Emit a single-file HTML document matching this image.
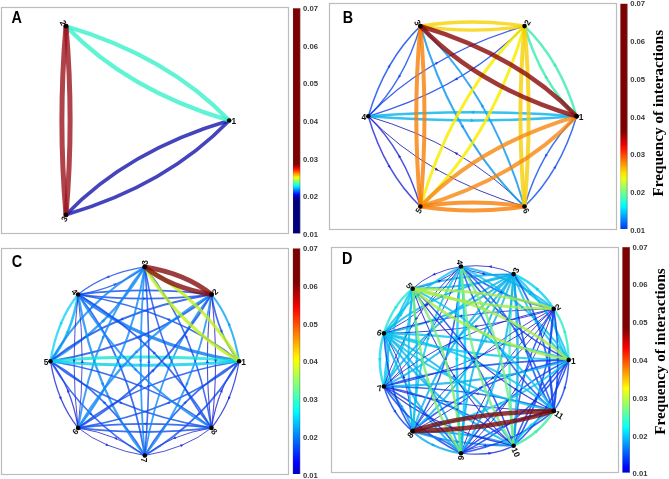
<!DOCTYPE html><html><head><meta charset="utf-8"><style>
html,body{margin:0;padding:0;background:#fff;width:669px;height:479px;overflow:hidden}
svg{position:absolute;left:0;top:0;display:block;will-change:transform}
.t{font-family:"Liberation Sans",sans-serif;font-weight:bold;fill:#383838;font-size:7.7px}
.L{font-family:"Liberation Sans",sans-serif;font-weight:bold;fill:#000;font-size:16px}
.F{font-family:"Liberation Serif",serif;font-weight:bold;fill:#000;font-size:15.25px}
.n{font-family:"Liberation Sans",sans-serif;font-weight:bold;fill:#111;font-size:8.4px}
</style></head><body>
<svg width="669" height="479" viewBox="0 0 669 479">
<defs><linearGradient id="gA" x1="0" y1="0" x2="0" y2="1"><stop offset="0.000" stop-color="#7f0000"/><stop offset="0.008" stop-color="#7f0000"/><stop offset="0.017" stop-color="#7f0000"/><stop offset="0.025" stop-color="#7f0000"/><stop offset="0.033" stop-color="#7f0000"/><stop offset="0.042" stop-color="#7f0000"/><stop offset="0.050" stop-color="#7f0000"/><stop offset="0.058" stop-color="#7f0000"/><stop offset="0.067" stop-color="#7f0000"/><stop offset="0.075" stop-color="#7f0000"/><stop offset="0.083" stop-color="#7f0000"/><stop offset="0.092" stop-color="#7f0000"/><stop offset="0.100" stop-color="#7f0000"/><stop offset="0.108" stop-color="#7f0000"/><stop offset="0.117" stop-color="#7f0000"/><stop offset="0.125" stop-color="#7f0000"/><stop offset="0.133" stop-color="#7f0000"/><stop offset="0.142" stop-color="#7f0000"/><stop offset="0.150" stop-color="#7f0000"/><stop offset="0.158" stop-color="#7f0000"/><stop offset="0.167" stop-color="#7f0000"/><stop offset="0.175" stop-color="#7f0000"/><stop offset="0.183" stop-color="#7f0000"/><stop offset="0.192" stop-color="#7f0000"/><stop offset="0.200" stop-color="#7f0000"/><stop offset="0.208" stop-color="#7f0000"/><stop offset="0.217" stop-color="#7f0000"/><stop offset="0.225" stop-color="#7f0000"/><stop offset="0.233" stop-color="#7f0000"/><stop offset="0.242" stop-color="#7f0000"/><stop offset="0.250" stop-color="#7f0000"/><stop offset="0.258" stop-color="#7f0000"/><stop offset="0.267" stop-color="#7f0000"/><stop offset="0.275" stop-color="#7f0000"/><stop offset="0.283" stop-color="#7f0000"/><stop offset="0.292" stop-color="#7f0000"/><stop offset="0.300" stop-color="#7f0000"/><stop offset="0.308" stop-color="#7f0000"/><stop offset="0.317" stop-color="#7f0000"/><stop offset="0.325" stop-color="#7f0000"/><stop offset="0.333" stop-color="#7f0000"/><stop offset="0.342" stop-color="#7f0000"/><stop offset="0.350" stop-color="#7f0000"/><stop offset="0.358" stop-color="#7f0000"/><stop offset="0.367" stop-color="#7f0000"/><stop offset="0.375" stop-color="#7f0000"/><stop offset="0.383" stop-color="#7f0000"/><stop offset="0.392" stop-color="#7f0000"/><stop offset="0.400" stop-color="#7f0000"/><stop offset="0.408" stop-color="#7f0000"/><stop offset="0.417" stop-color="#7f0000"/><stop offset="0.425" stop-color="#7f0000"/><stop offset="0.433" stop-color="#7f0000"/><stop offset="0.442" stop-color="#7f0000"/><stop offset="0.450" stop-color="#7f0000"/><stop offset="0.458" stop-color="#7f0000"/><stop offset="0.467" stop-color="#7f0000"/><stop offset="0.475" stop-color="#7f0000"/><stop offset="0.483" stop-color="#7f0000"/><stop offset="0.492" stop-color="#7f0000"/><stop offset="0.500" stop-color="#7f0000"/><stop offset="0.508" stop-color="#7f0000"/><stop offset="0.517" stop-color="#7f0000"/><stop offset="0.525" stop-color="#7f0000"/><stop offset="0.533" stop-color="#7f0000"/><stop offset="0.542" stop-color="#7f0000"/><stop offset="0.550" stop-color="#7f0000"/><stop offset="0.558" stop-color="#7f0000"/><stop offset="0.567" stop-color="#7f0000"/><stop offset="0.575" stop-color="#7f0000"/><stop offset="0.583" stop-color="#7f0000"/><stop offset="0.592" stop-color="#7f0000"/><stop offset="0.600" stop-color="#7f0000"/><stop offset="0.608" stop-color="#7f0000"/><stop offset="0.617" stop-color="#7f0000"/><stop offset="0.625" stop-color="#7f0000"/><stop offset="0.633" stop-color="#7f0000"/><stop offset="0.642" stop-color="#7f0000"/><stop offset="0.650" stop-color="#7f0000"/><stop offset="0.658" stop-color="#7f0000"/><stop offset="0.667" stop-color="#7f0000"/><stop offset="0.675" stop-color="#7f0000"/><stop offset="0.683" stop-color="#7f0000"/><stop offset="0.692" stop-color="#7f0000"/><stop offset="0.700" stop-color="#ab0000"/><stop offset="0.708" stop-color="#e30000"/><stop offset="0.717" stop-color="#ff1b00"/><stop offset="0.725" stop-color="#ff5300"/><stop offset="0.733" stop-color="#ff8a00"/><stop offset="0.742" stop-color="#ffc200"/><stop offset="0.750" stop-color="#fff900"/><stop offset="0.758" stop-color="#cdff31"/><stop offset="0.767" stop-color="#95ff69"/><stop offset="0.775" stop-color="#5effa0"/><stop offset="0.783" stop-color="#26ffd8"/><stop offset="0.792" stop-color="#00eeff"/><stop offset="0.800" stop-color="#00b6ff"/><stop offset="0.808" stop-color="#007fff"/><stop offset="0.817" stop-color="#0048ff"/><stop offset="0.825" stop-color="#0010ff"/><stop offset="0.833" stop-color="#0000d8"/><stop offset="0.842" stop-color="#0000a0"/><stop offset="0.850" stop-color="#00007f"/><stop offset="0.858" stop-color="#00007f"/><stop offset="0.867" stop-color="#00007f"/><stop offset="0.875" stop-color="#00007f"/><stop offset="0.883" stop-color="#00007f"/><stop offset="0.892" stop-color="#00007f"/><stop offset="0.900" stop-color="#00007f"/><stop offset="0.908" stop-color="#00007f"/><stop offset="0.917" stop-color="#00007f"/><stop offset="0.925" stop-color="#00007f"/><stop offset="0.933" stop-color="#00007f"/><stop offset="0.942" stop-color="#00007f"/><stop offset="0.950" stop-color="#00007f"/><stop offset="0.958" stop-color="#00007f"/><stop offset="0.967" stop-color="#00007f"/><stop offset="0.975" stop-color="#00007f"/><stop offset="0.983" stop-color="#00007f"/><stop offset="0.992" stop-color="#00007f"/><stop offset="1.000" stop-color="#00007f"/></linearGradient><linearGradient id="gB" x1="0" y1="0" x2="0" y2="1"><stop offset="0.000" stop-color="#7f0000"/><stop offset="0.025" stop-color="#7f0000"/><stop offset="0.050" stop-color="#7f0000"/><stop offset="0.075" stop-color="#7f0000"/><stop offset="0.100" stop-color="#7f0000"/><stop offset="0.125" stop-color="#7f0000"/><stop offset="0.150" stop-color="#7f0000"/><stop offset="0.175" stop-color="#7f0000"/><stop offset="0.200" stop-color="#7f0000"/><stop offset="0.225" stop-color="#7f0000"/><stop offset="0.250" stop-color="#7f0000"/><stop offset="0.275" stop-color="#7f0000"/><stop offset="0.300" stop-color="#7f0000"/><stop offset="0.325" stop-color="#7f0000"/><stop offset="0.350" stop-color="#7f0000"/><stop offset="0.375" stop-color="#7f0000"/><stop offset="0.400" stop-color="#7f0000"/><stop offset="0.425" stop-color="#7f0000"/><stop offset="0.450" stop-color="#7f0000"/><stop offset="0.475" stop-color="#7f0000"/><stop offset="0.500" stop-color="#7f0000"/><stop offset="0.525" stop-color="#7f0000"/><stop offset="0.550" stop-color="#7f0000"/><stop offset="0.575" stop-color="#8c0000"/><stop offset="0.600" stop-color="#bd0000"/><stop offset="0.625" stop-color="#ed0000"/><stop offset="0.650" stop-color="#ff1f00"/><stop offset="0.675" stop-color="#ff4f00"/><stop offset="0.700" stop-color="#ff8000"/><stop offset="0.725" stop-color="#ffb000"/><stop offset="0.750" stop-color="#ffe100"/><stop offset="0.775" stop-color="#ebff13"/><stop offset="0.800" stop-color="#bbff43"/><stop offset="0.825" stop-color="#8aff74"/><stop offset="0.850" stop-color="#5affa4"/><stop offset="0.875" stop-color="#29ffd5"/><stop offset="0.900" stop-color="#00f8ff"/><stop offset="0.925" stop-color="#00c7ff"/><stop offset="0.950" stop-color="#0096ff"/><stop offset="0.975" stop-color="#0066ff"/><stop offset="1.000" stop-color="#0035ff"/></linearGradient><linearGradient id="gC" x1="0" y1="0" x2="0" y2="1"><stop offset="0.000" stop-color="#7f0000"/><stop offset="0.025" stop-color="#7f0000"/><stop offset="0.050" stop-color="#7f0000"/><stop offset="0.075" stop-color="#7f0000"/><stop offset="0.100" stop-color="#7f0000"/><stop offset="0.125" stop-color="#7f0000"/><stop offset="0.150" stop-color="#7f0000"/><stop offset="0.175" stop-color="#9b0000"/><stop offset="0.200" stop-color="#b70000"/><stop offset="0.225" stop-color="#d30000"/><stop offset="0.250" stop-color="#ef0000"/><stop offset="0.275" stop-color="#ff0c00"/><stop offset="0.300" stop-color="#ff2800"/><stop offset="0.325" stop-color="#ff4300"/><stop offset="0.350" stop-color="#ff5f00"/><stop offset="0.375" stop-color="#ff7b00"/><stop offset="0.400" stop-color="#ff9700"/><stop offset="0.425" stop-color="#ffb300"/><stop offset="0.450" stop-color="#ffcf00"/><stop offset="0.475" stop-color="#ffeb00"/><stop offset="0.500" stop-color="#f6ff08"/><stop offset="0.525" stop-color="#daff24"/><stop offset="0.550" stop-color="#beff40"/><stop offset="0.575" stop-color="#a2ff5c"/><stop offset="0.600" stop-color="#86ff78"/><stop offset="0.625" stop-color="#6bff93"/><stop offset="0.650" stop-color="#4fffaf"/><stop offset="0.675" stop-color="#33ffcb"/><stop offset="0.700" stop-color="#17ffe7"/><stop offset="0.725" stop-color="#00faff"/><stop offset="0.750" stop-color="#00deff"/><stop offset="0.775" stop-color="#00c2ff"/><stop offset="0.800" stop-color="#00a6ff"/><stop offset="0.825" stop-color="#008aff"/><stop offset="0.850" stop-color="#006eff"/><stop offset="0.875" stop-color="#0052ff"/><stop offset="0.900" stop-color="#0036ff"/><stop offset="0.925" stop-color="#001aff"/><stop offset="0.950" stop-color="#0000fe"/><stop offset="0.975" stop-color="#0000e2"/><stop offset="1.000" stop-color="#0000c6"/></linearGradient><linearGradient id="gD" x1="0" y1="0" x2="0" y2="1"><stop offset="0.000" stop-color="#7f0000"/><stop offset="0.025" stop-color="#7f0000"/><stop offset="0.050" stop-color="#7f0000"/><stop offset="0.075" stop-color="#7f0000"/><stop offset="0.100" stop-color="#7f0000"/><stop offset="0.125" stop-color="#7f0000"/><stop offset="0.150" stop-color="#7f0000"/><stop offset="0.175" stop-color="#7f0000"/><stop offset="0.200" stop-color="#7f0000"/><stop offset="0.225" stop-color="#7f0000"/><stop offset="0.250" stop-color="#7f0000"/><stop offset="0.275" stop-color="#7f0000"/><stop offset="0.300" stop-color="#7f0000"/><stop offset="0.325" stop-color="#7f0000"/><stop offset="0.350" stop-color="#7f0000"/><stop offset="0.375" stop-color="#950000"/><stop offset="0.400" stop-color="#b90000"/><stop offset="0.425" stop-color="#dd0000"/><stop offset="0.450" stop-color="#ff0200"/><stop offset="0.475" stop-color="#ff2600"/><stop offset="0.500" stop-color="#ff4a00"/><stop offset="0.525" stop-color="#ff6e00"/><stop offset="0.550" stop-color="#ff9200"/><stop offset="0.575" stop-color="#ffb600"/><stop offset="0.600" stop-color="#ffda00"/><stop offset="0.625" stop-color="#fffe00"/><stop offset="0.650" stop-color="#dbff23"/><stop offset="0.675" stop-color="#b7ff47"/><stop offset="0.700" stop-color="#93ff6b"/><stop offset="0.725" stop-color="#6fff8f"/><stop offset="0.750" stop-color="#4bffb3"/><stop offset="0.775" stop-color="#27ffd7"/><stop offset="0.800" stop-color="#03fffb"/><stop offset="0.825" stop-color="#00deff"/><stop offset="0.850" stop-color="#00baff"/><stop offset="0.875" stop-color="#0096ff"/><stop offset="0.900" stop-color="#0072ff"/><stop offset="0.925" stop-color="#004eff"/><stop offset="0.950" stop-color="#002aff"/><stop offset="0.975" stop-color="#0006ff"/><stop offset="1.000" stop-color="#0000e1"/></linearGradient></defs>
<rect x="1.5" y="7.5" width="287.0" height="226.0" fill="none" stroke="#bcbcbc" stroke-width="1.2"/>
<rect x="329.5" y="3.5" width="287.0" height="226.0" fill="none" stroke="#bcbcbc" stroke-width="1.2"/>
<rect x="1.5" y="248.5" width="287.0" height="226.0" fill="none" stroke="#bcbcbc" stroke-width="1.2"/>
<rect x="331.5" y="247.5" width="287.0" height="225.0" fill="none" stroke="#bcbcbc" stroke-width="1.2"/>
<g fill="none" stroke-linecap="round">
<path d="M229.20,120.50Q167.38,184.91 66.00,214.72" stroke="#1515ab" stroke-opacity="0.80" stroke-width="3.6"/>
<path d="M229.20,120.50Q127.82,150.31 66.00,214.72" stroke="#1515ab" stroke-opacity="0.80" stroke-width="3.6"/>
<path d="M229.20,120.50Q167.38,56.09 66.00,26.28" stroke="#38f1c9" stroke-opacity="0.80" stroke-width="4.3"/>
<path d="M229.20,120.50Q127.82,90.69 66.00,26.28" stroke="#38f1c9" stroke-opacity="0.80" stroke-width="4.3"/>
<path d="M66.00,26.28Q57.80,120.50 66.00,214.72" stroke="#9c131d" stroke-opacity="0.80" stroke-width="5.0"/>
<path d="M66.00,26.28Q74.20,120.50 66.00,214.72" stroke="#9c131d" stroke-opacity="0.80" stroke-width="5.0"/>
</g>
<g fill="none" stroke-linecap="round">
<path d="M368.30,116.30Q427.48,177.96 524.52,206.50" stroke="#1010a6" stroke-opacity="0.80" stroke-width="1"/>
<path d="M368.30,116.30Q465.35,144.84 524.52,206.50" stroke="#1010a6" stroke-opacity="0.80" stroke-width="1"/>
<path d="M368.30,116.30Q384.77,172.33 420.37,206.50" stroke="#1f24d8" stroke-opacity="0.80" stroke-width="1.5"/>
<path d="M368.30,116.30Q403.90,150.47 420.37,206.50" stroke="#1f24d8" stroke-opacity="0.80" stroke-width="1.5"/>
<path d="M368.30,116.30Q384.77,60.27 420.38,26.10" stroke="#0b47ec" stroke-opacity="0.80" stroke-width="1.5"/>
<path d="M368.30,116.30Q403.90,82.13 420.38,26.10" stroke="#0b47ec" stroke-opacity="0.80" stroke-width="1.5"/>
<path d="M368.30,116.30Q427.48,54.64 524.52,26.10" stroke="#0b33ec" stroke-opacity="0.80" stroke-width="1.3"/>
<path d="M368.30,116.30Q465.35,87.76 524.52,26.10" stroke="#0b33ec" stroke-opacity="0.80" stroke-width="1.3"/>
<path d="M524.52,206.50Q560.13,172.33 576.60,116.30" stroke="#0b4cec" stroke-opacity="0.80" stroke-width="1.5"/>
<path d="M524.52,206.50Q541.00,150.47 576.60,116.30" stroke="#0b4cec" stroke-opacity="0.80" stroke-width="1.5"/>
<path d="M420.38,26.10Q453.32,138.17 524.52,206.50" stroke="#0692ec" stroke-opacity="0.80" stroke-width="2"/>
<path d="M420.38,26.10Q491.58,94.43 524.52,206.50" stroke="#0692ec" stroke-opacity="0.80" stroke-width="2"/>
<path d="M368.30,116.30Q472.45,124.50 576.60,116.30" stroke="#06b0ec" stroke-opacity="0.80" stroke-width="2.5"/>
<path d="M368.30,116.30Q472.45,108.10 576.60,116.30" stroke="#06b0ec" stroke-opacity="0.80" stroke-width="2.5"/>
<path d="M524.52,26.10Q560.13,60.27 576.60,116.30" stroke="#38ecb0" stroke-opacity="0.80" stroke-width="2.5"/>
<path d="M524.52,26.10Q541.00,82.13 576.60,116.30" stroke="#38ecb0" stroke-opacity="0.80" stroke-width="2.5"/>
<path d="M524.52,26.10Q453.32,94.43 420.37,206.50" stroke="#f9ed00" stroke-opacity="0.84" stroke-width="3"/>
<path d="M524.52,26.10Q491.58,138.17 420.37,206.50" stroke="#f9ed00" stroke-opacity="0.84" stroke-width="3"/>
<path d="M524.52,26.10Q532.73,116.30 524.52,206.50" stroke="#f6ce06" stroke-opacity="0.80" stroke-width="4"/>
<path d="M524.52,26.10Q516.32,116.30 524.52,206.50" stroke="#f6ce06" stroke-opacity="0.80" stroke-width="4"/>
<path d="M420.38,26.10Q472.45,17.90 524.52,26.10" stroke="#f6d100" stroke-opacity="0.81" stroke-width="3.3"/>
<path d="M420.38,26.10Q472.45,34.30 524.52,26.10" stroke="#f6d100" stroke-opacity="0.81" stroke-width="3.3"/>
<path d="M420.37,206.50Q517.42,177.96 576.60,116.30" stroke="#f68810" stroke-opacity="0.80" stroke-width="4"/>
<path d="M420.37,206.50Q479.55,144.84 576.60,116.30" stroke="#f68810" stroke-opacity="0.80" stroke-width="4"/>
<path d="M420.37,206.50Q472.45,214.70 524.52,206.50" stroke="#f67e06" stroke-opacity="0.80" stroke-width="4"/>
<path d="M420.37,206.50Q472.45,198.30 524.52,206.50" stroke="#f67e06" stroke-opacity="0.80" stroke-width="4"/>
<path d="M420.38,26.10Q412.18,116.30 420.37,206.50" stroke="#f67e06" stroke-opacity="0.80" stroke-width="4"/>
<path d="M420.38,26.10Q428.57,116.30 420.37,206.50" stroke="#f67e06" stroke-opacity="0.80" stroke-width="4"/>
<path d="M420.38,26.10Q517.42,54.64 576.60,116.30" stroke="#880606" stroke-opacity="0.80" stroke-width="4.5"/>
<path d="M420.38,26.10Q479.55,87.76 576.60,116.30" stroke="#880606" stroke-opacity="0.80" stroke-width="4.5"/>
</g>
<path d="M438.42,170.53L434.72,170.13L436.22,167.53Z" fill="#1010a6" fill-opacity="0.80"/>
<path d="M454.41,152.27L458.10,152.67L456.60,155.27Z" fill="#1010a6" fill-opacity="0.80"/>
<path d="M390.40,168.34L387.40,166.14L390.00,164.64Z" fill="#1f24d8" fill-opacity="0.80"/>
<path d="M398.27,154.46L401.27,156.66L398.67,158.16Z" fill="#1f24d8" fill-opacity="0.80"/>
<path d="M390.41,64.26L390.00,67.96L387.41,66.46Z" fill="#0b47ec" fill-opacity="0.80"/>
<path d="M398.27,78.14L398.67,74.44L401.27,75.94Z" fill="#0b47ec" fill-opacity="0.80"/>
<path d="M438.42,62.07L436.22,65.07L434.72,62.47Z" fill="#0b33ec" fill-opacity="0.80"/>
<path d="M454.41,80.33L456.60,77.33L458.10,79.93Z" fill="#0b33ec" fill-opacity="0.80"/>
<path d="M556.20,165.39L555.79,169.09L553.20,167.59Z" fill="#0b4cec" fill-opacity="0.80"/>
<path d="M544.93,157.41L545.33,153.71L547.93,155.21Z" fill="#0b4cec" fill-opacity="0.80"/>
<path d="M463.73,128.71L460.56,126.61L463.51,124.91Z" fill="#0692ec" fill-opacity="0.80"/>
<path d="M481.17,103.89L484.34,105.99L481.39,107.69Z" fill="#0692ec" fill-opacity="0.80"/>
<path d="M474.15,120.40L470.75,122.35L470.75,118.45Z" fill="#06b0ec" fill-opacity="0.80"/>
<path d="M470.75,112.20L474.15,110.25L474.15,114.15Z" fill="#06b0ec" fill-opacity="0.80"/>
<path d="M556.20,67.21L552.81,65.24L556.18,63.29Z" fill="#38ecb0" fill-opacity="0.80"/>
<path d="M544.93,75.19L548.32,77.16L544.94,79.11Z" fill="#38ecb0" fill-opacity="0.80"/>
<g fill="none" stroke-linecap="round">
<path d="M239.10,361.20Q232.33,319.97 211.48,294.52" stroke="#06a1f6" stroke-opacity="0.80" stroke-width="2.0"/>
<path d="M239.10,361.20Q218.25,335.75 211.48,294.52" stroke="#104cec" stroke-opacity="0.80" stroke-width="1.7"/>
<path d="M144.80,266.90Q103.57,273.67 78.12,294.52" stroke="#104cec" stroke-opacity="0.80" stroke-width="1.3"/>
<path d="M144.80,266.90Q119.35,287.75 78.12,294.52" stroke="#104cec" stroke-opacity="0.80" stroke-width="1.3"/>
<path d="M78.12,294.52Q57.27,319.97 50.50,361.20" stroke="#10d3f6" stroke-opacity="0.80" stroke-width="2.3"/>
<path d="M78.12,294.52Q71.35,335.75 50.50,361.20" stroke="#00b6f1" stroke-opacity="0.81" stroke-width="2.5"/>
<path d="M50.50,361.20Q57.27,402.43 78.12,427.88" stroke="#1d24d8" stroke-opacity="0.80" stroke-width="1.3"/>
<path d="M50.50,361.20Q71.35,386.65 78.12,427.88" stroke="#1d24d8" stroke-opacity="0.80" stroke-width="1.3"/>
<path d="M78.12,427.88Q103.57,448.73 144.80,455.50" stroke="#2424ce" stroke-opacity="0.80" stroke-width="1.0"/>
<path d="M78.12,427.88Q119.35,434.65 144.80,455.50" stroke="#2424ce" stroke-opacity="0.80" stroke-width="1.0"/>
<path d="M144.80,455.50Q186.03,448.73 211.48,427.88" stroke="#2424ce" stroke-opacity="0.80" stroke-width="1.0"/>
<path d="M144.80,455.50Q170.25,434.65 211.48,427.88" stroke="#2424ce" stroke-opacity="0.80" stroke-width="1.0"/>
<path d="M239.10,361.20Q232.33,402.43 211.48,427.88" stroke="#1524dd" stroke-opacity="0.80" stroke-width="1.2"/>
<path d="M239.10,361.20Q218.25,386.65 211.48,427.88" stroke="#1524dd" stroke-opacity="0.80" stroke-width="1.2"/>
<path d="M211.48,294.52Q144.80,286.32 78.12,294.52" stroke="#104cec" stroke-opacity="0.80" stroke-width="1.8"/>
<path d="M211.48,294.52Q144.80,302.72 78.12,294.52" stroke="#104cec" stroke-opacity="0.80" stroke-width="1.8"/>
<path d="M144.80,266.90Q85.20,301.60 50.50,361.20" stroke="#1088f6" stroke-opacity="0.80" stroke-width="2.2"/>
<path d="M144.80,266.90Q110.10,326.50 50.50,361.20" stroke="#1088f6" stroke-opacity="0.80" stroke-width="2.2"/>
<path d="M78.12,294.52Q69.92,361.20 78.12,427.88" stroke="#2424ce" stroke-opacity="0.80" stroke-width="1.0"/>
<path d="M78.12,294.52Q86.32,361.20 78.12,427.88" stroke="#2424ce" stroke-opacity="0.80" stroke-width="1.0"/>
<path d="M50.50,361.20Q85.20,420.80 144.80,455.50" stroke="#104cec" stroke-opacity="0.80" stroke-width="1.6"/>
<path d="M50.50,361.20Q110.10,395.90 144.80,455.50" stroke="#104cec" stroke-opacity="0.80" stroke-width="1.6"/>
<path d="M78.12,427.88Q144.80,436.08 211.48,427.88" stroke="#104cec" stroke-opacity="0.80" stroke-width="1.8"/>
<path d="M78.12,427.88Q144.80,419.68 211.48,427.88" stroke="#104cec" stroke-opacity="0.80" stroke-width="1.8"/>
<path d="M239.10,361.20Q204.40,420.80 144.80,455.50" stroke="#104cec" stroke-opacity="0.80" stroke-width="1.8"/>
<path d="M239.10,361.20Q179.50,395.90 144.80,455.50" stroke="#104cec" stroke-opacity="0.80" stroke-width="1.8"/>
<path d="M211.48,294.52Q219.68,361.20 211.48,427.88" stroke="#2424ce" stroke-opacity="0.80" stroke-width="1.1"/>
<path d="M211.48,294.52Q203.28,361.20 211.48,427.88" stroke="#2424ce" stroke-opacity="0.80" stroke-width="1.1"/>
<path d="M239.10,361.20Q177.66,310.85 78.12,294.52" stroke="#104cec" stroke-opacity="0.80" stroke-width="1.6"/>
<path d="M239.10,361.20Q139.56,344.87 78.12,294.52" stroke="#0b74f1" stroke-opacity="0.80" stroke-width="3.2"/>
<path d="M211.48,294.52Q111.94,310.85 50.50,361.20" stroke="#104cec" stroke-opacity="0.80" stroke-width="2.0"/>
<path d="M211.48,294.52Q150.04,344.87 50.50,361.20" stroke="#104cec" stroke-opacity="0.80" stroke-width="2.0"/>
<path d="M144.80,266.90Q94.45,328.34 78.12,427.88" stroke="#1088f6" stroke-opacity="0.80" stroke-width="2.0"/>
<path d="M144.80,266.90Q128.47,366.44 78.12,427.88" stroke="#1088f6" stroke-opacity="0.80" stroke-width="2.0"/>
<path d="M78.12,294.52Q94.45,394.06 144.80,455.50" stroke="#1088f6" stroke-opacity="0.80" stroke-width="2.2"/>
<path d="M78.12,294.52Q128.47,355.96 144.80,455.50" stroke="#104cec" stroke-opacity="0.80" stroke-width="1.8"/>
<path d="M50.50,361.20Q111.94,411.55 211.48,427.88" stroke="#104cec" stroke-opacity="0.80" stroke-width="1.6"/>
<path d="M50.50,361.20Q150.04,377.53 211.48,427.88" stroke="#104cec" stroke-opacity="0.80" stroke-width="1.6"/>
<path d="M239.10,361.20Q177.66,411.55 78.12,427.88" stroke="#104cec" stroke-opacity="0.80" stroke-width="1.6"/>
<path d="M239.10,361.20Q139.56,377.53 78.12,427.88" stroke="#104cec" stroke-opacity="0.80" stroke-width="1.6"/>
<path d="M211.48,294.52Q195.15,394.06 144.80,455.50" stroke="#1088f6" stroke-opacity="0.80" stroke-width="1.8"/>
<path d="M211.48,294.52Q161.13,355.96 144.80,455.50" stroke="#1088f6" stroke-opacity="0.80" stroke-width="1.8"/>
<path d="M144.80,266.90Q195.15,328.34 211.48,427.88" stroke="#104cec" stroke-opacity="0.80" stroke-width="1.6"/>
<path d="M144.80,266.90Q161.13,366.44 211.48,427.88" stroke="#104cec" stroke-opacity="0.80" stroke-width="1.6"/>
<path d="M239.10,361.20Q144.80,353.00 50.50,361.20" stroke="#10e7d3" stroke-opacity="0.80" stroke-width="3.0"/>
<path d="M239.10,361.20Q144.80,369.40 50.50,361.20" stroke="#06ceec" stroke-opacity="0.80" stroke-width="3.0"/>
<path d="M211.48,294.52Q127.20,343.60 78.12,427.88" stroke="#1088f6" stroke-opacity="0.80" stroke-width="2.2"/>
<path d="M211.48,294.52Q162.40,378.80 78.12,427.88" stroke="#104cec" stroke-opacity="0.80" stroke-width="2.0"/>
<path d="M144.80,266.90Q136.60,361.20 144.80,455.50" stroke="#1088f6" stroke-opacity="0.80" stroke-width="1.8"/>
<path d="M144.80,266.90Q153.00,361.20 144.80,455.50" stroke="#104cec" stroke-opacity="0.80" stroke-width="1.6"/>
<path d="M78.12,294.52Q127.20,378.80 211.48,427.88" stroke="#1088f6" stroke-opacity="0.80" stroke-width="2.0"/>
<path d="M78.12,294.52Q162.40,343.60 211.48,427.88" stroke="#104cec" stroke-opacity="0.80" stroke-width="1.8"/>
<path d="M239.10,361.20Q204.40,301.60 144.80,266.90" stroke="#bff11a" stroke-opacity="0.80" stroke-width="3.3"/>
<path d="M239.10,361.20Q179.50,326.50 144.80,266.90" stroke="#bff11a" stroke-opacity="0.80" stroke-width="3.3"/>
<path d="M211.48,294.52Q186.03,273.67 144.80,266.90" stroke="#830e10" stroke-opacity="0.80" stroke-width="5.0"/>
<path d="M211.48,294.52Q170.25,287.75 144.80,266.90" stroke="#830e10" stroke-opacity="0.80" stroke-width="5.0"/>
</g>
<path d="M228.16,322.34L231.03,324.84L227.89,326.14Z" fill="#06a1f6" fill-opacity="0.80"/>
<path d="M222.42,333.38L219.69,330.83L222.55,329.64Z" fill="#104cec" fill-opacity="0.80"/>
<path d="M105.94,277.84L108.51,275.15L109.66,277.93Z" fill="#104cec" fill-opacity="0.80"/>
<path d="M116.98,283.58L114.41,286.27L113.26,283.49Z" fill="#104cec" fill-opacity="0.80"/>
<path d="M60.14,325.49L59.73,321.64L63.15,323.05Z" fill="#10d3f6" fill-opacity="0.80"/>
<path d="M68.48,330.23L68.98,334.12L65.38,332.63Z" fill="#00b6f1" fill-opacity="0.81"/>
<path d="M61.44,400.06L58.75,397.49L61.53,396.34Z" fill="#1d24d8" fill-opacity="0.80"/>
<path d="M67.18,389.02L69.87,391.59L67.09,392.74Z" fill="#1d24d8" fill-opacity="0.80"/>
<path d="M109.09,445.86L105.37,445.95L106.52,443.17Z" fill="#2424ce" fill-opacity="0.80"/>
<path d="M113.83,437.52L117.55,437.43L116.40,440.21Z" fill="#2424ce" fill-opacity="0.80"/>
<path d="M183.66,444.56L181.09,447.25L179.94,444.47Z" fill="#2424ce" fill-opacity="0.80"/>
<path d="M172.62,438.82L175.19,436.13L176.34,438.91Z" fill="#2424ce" fill-opacity="0.80"/>
<path d="M228.16,400.06L228.07,396.34L230.85,397.49Z" fill="#1524dd" fill-opacity="0.80"/>
<path d="M222.42,389.02L222.51,392.74L219.73,391.59Z" fill="#1524dd" fill-opacity="0.80"/>
<path d="M143.10,290.42L146.50,288.82L146.50,292.02Z" fill="#104cec" fill-opacity="0.80"/>
<path d="M146.50,298.62L143.10,300.22L143.10,297.02Z" fill="#104cec" fill-opacity="0.80"/>
<path d="M90.22,309.03L91.35,305.35L93.90,307.90Z" fill="#1088f6" fill-opacity="0.80"/>
<path d="M105.08,319.07L103.95,322.75L101.40,320.20Z" fill="#1088f6" fill-opacity="0.80"/>
<path d="M74.02,362.90L72.52,359.50L75.52,359.50Z" fill="#2424ce" fill-opacity="0.80"/>
<path d="M82.22,359.50L83.72,362.90L80.72,362.90Z" fill="#2424ce" fill-opacity="0.80"/>
<path d="M92.63,415.78L89.16,414.43L91.28,412.31Z" fill="#104cec" fill-opacity="0.80"/>
<path d="M102.67,400.92L106.14,402.27L104.02,404.39Z" fill="#104cec" fill-opacity="0.80"/>
<path d="M146.50,431.98L143.10,433.58L143.10,430.38Z" fill="#104cec" fill-opacity="0.80"/>
<path d="M143.10,423.78L146.50,422.18L146.50,425.38Z" fill="#104cec" fill-opacity="0.80"/>
<path d="M196.97,415.78L198.25,412.24L200.51,414.50Z" fill="#104cec" fill-opacity="0.80"/>
<path d="M186.93,400.92L185.65,404.46L183.39,402.20Z" fill="#104cec" fill-opacity="0.80"/>
<path d="M215.58,362.90L214.08,359.50L217.08,359.50Z" fill="#2424ce" fill-opacity="0.80"/>
<path d="M207.38,359.50L208.88,362.90L205.88,362.90Z" fill="#2424ce" fill-opacity="0.80"/>
<path d="M166.56,318.70L170.28,318.62L169.13,321.39Z" fill="#104cec" fill-opacity="0.80"/>
<path d="M119.89,320.01L122.39,317.13L123.69,320.28Z" fill="#104cec" fill-opacity="0.80"/>
<path d="M142.09,335.71L139.59,338.59L138.29,335.44Z" fill="#104cec" fill-opacity="0.80"/>
<path d="M102.30,339.44L102.03,335.64L105.18,336.94Z" fill="#1088f6" fill-opacity="0.80"/>
<path d="M120.62,355.34L120.89,359.14L117.74,357.84Z" fill="#1088f6" fill-opacity="0.80"/>
<path d="M103.61,386.11L100.64,383.65L103.97,382.28Z" fill="#1088f6" fill-opacity="0.80"/>
<path d="M119.31,363.91L122.09,366.44L119.14,367.67Z" fill="#104cec" fill-opacity="0.80"/>
<path d="M123.04,403.70L119.32,403.78L120.47,401.01Z" fill="#104cec" fill-opacity="0.80"/>
<path d="M138.94,385.38L142.66,385.30L141.51,388.07Z" fill="#104cec" fill-opacity="0.80"/>
<path d="M166.56,403.70L169.13,401.01L170.28,403.78Z" fill="#104cec" fill-opacity="0.80"/>
<path d="M150.66,385.38L148.09,388.07L146.94,385.30Z" fill="#104cec" fill-opacity="0.80"/>
<path d="M185.99,386.11L185.82,382.35L188.77,383.58Z" fill="#1088f6" fill-opacity="0.80"/>
<path d="M170.29,363.91L170.46,367.67L167.51,366.44Z" fill="#1088f6" fill-opacity="0.80"/>
<path d="M187.30,339.44L184.61,336.87L187.38,335.72Z" fill="#104cec" fill-opacity="0.80"/>
<path d="M168.98,355.34L171.67,357.91L168.90,359.06Z" fill="#104cec" fill-opacity="0.80"/>
<path d="M134.80,353.60L135.93,349.93L138.47,352.47Z" fill="#1088f6" fill-opacity="0.80"/>
<path d="M154.80,368.80L153.60,372.40L151.20,370.00Z" fill="#104cec" fill-opacity="0.80"/>
<path d="M140.70,362.90L139.10,359.50L142.30,359.50Z" fill="#1088f6" fill-opacity="0.80"/>
<path d="M148.90,359.50L150.40,362.90L147.40,362.90Z" fill="#104cec" fill-opacity="0.80"/>
<path d="M137.20,371.20L133.60,370.00L136.00,367.60Z" fill="#1088f6" fill-opacity="0.80"/>
<path d="M152.40,351.20L155.93,352.47L153.67,354.73Z" fill="#104cec" fill-opacity="0.80"/>
<g fill="none" stroke-linecap="round">
<path d="M568.70,359.90Q567.95,328.24 553.73,308.92" stroke="#24ecc4" stroke-opacity="0.80" stroke-width="2.2"/>
<path d="M568.70,359.90Q554.48,340.58 553.73,308.92" stroke="#06c4ec" stroke-opacity="0.80" stroke-width="2"/>
<path d="M553.73,308.92Q539.54,285.77 513.57,274.12" stroke="#06cef6" stroke-opacity="0.80" stroke-width="2.5"/>
<path d="M553.73,308.92Q527.77,297.27 513.57,274.12" stroke="#06b0ec" stroke-opacity="0.80" stroke-width="2.2"/>
<path d="M513.57,274.12Q492.99,262.88 460.98,266.56" stroke="#1a1ace" stroke-opacity="0.80" stroke-width="1.0"/>
<path d="M513.57,274.12Q481.57,277.80 460.98,266.56" stroke="#1a1ace" stroke-opacity="0.80" stroke-width="1.0"/>
<path d="M460.98,266.56Q430.56,271.44 412.65,288.63" stroke="#1a1ace" stroke-opacity="0.80" stroke-width="1.0"/>
<path d="M460.98,266.56Q443.07,283.75 412.65,288.63" stroke="#1a1ace" stroke-opacity="0.80" stroke-width="1.0"/>
<path d="M412.65,288.63Q392.46,304.88 383.92,333.33" stroke="#1ae7ce" stroke-opacity="0.80" stroke-width="2.3"/>
<path d="M412.65,288.63Q404.11,317.09 383.92,333.33" stroke="#06c4ec" stroke-opacity="0.80" stroke-width="2.2"/>
<path d="M383.92,333.33Q375.72,359.90 383.92,386.47" stroke="#10d8ec" stroke-opacity="0.80" stroke-width="2.5"/>
<path d="M383.92,333.33Q392.12,359.90 383.92,386.47" stroke="#06c4ec" stroke-opacity="0.80" stroke-width="2.2"/>
<path d="M383.92,386.47Q392.46,414.92 412.65,431.17" stroke="#0b3dec" stroke-opacity="0.80" stroke-width="1.5"/>
<path d="M383.92,386.47Q404.11,402.71 412.65,431.17" stroke="#069cec" stroke-opacity="0.80" stroke-width="2"/>
<path d="M412.65,431.17Q430.56,448.36 460.98,453.24" stroke="#06a6ec" stroke-opacity="0.80" stroke-width="2"/>
<path d="M412.65,431.17Q443.07,436.05 460.98,453.24" stroke="#0b60ec" stroke-opacity="0.80" stroke-width="1.8"/>
<path d="M460.98,453.24Q492.99,456.92 513.57,445.68" stroke="#1024d8" stroke-opacity="0.80" stroke-width="1.2"/>
<path d="M460.98,453.24Q481.57,442.00 513.57,445.68" stroke="#1024d8" stroke-opacity="0.80" stroke-width="1.2"/>
<path d="M568.70,359.90Q567.95,391.56 553.73,410.88" stroke="#0b3dec" stroke-opacity="0.80" stroke-width="1.5"/>
<path d="M568.70,359.90Q554.48,379.22 553.73,410.88" stroke="#0b3dec" stroke-opacity="0.80" stroke-width="1.5"/>
<path d="M568.70,359.90Q550.40,306.53 513.57,274.12" stroke="#06c4ec" stroke-opacity="0.80" stroke-width="2"/>
<path d="M568.70,359.90Q531.88,327.49 513.57,274.12" stroke="#06c4ec" stroke-opacity="0.80" stroke-width="2"/>
<path d="M553.73,308.92Q518.41,277.99 460.98,266.56" stroke="#06b0ec" stroke-opacity="0.80" stroke-width="2"/>
<path d="M553.73,308.92Q496.30,297.49 460.98,266.56" stroke="#0b3dec" stroke-opacity="0.80" stroke-width="1.6"/>
<path d="M513.57,274.12Q453.23,274.51 412.65,288.63" stroke="#06b0ec" stroke-opacity="0.80" stroke-width="2"/>
<path d="M513.57,274.12Q472.99,288.24 412.65,288.63" stroke="#06b0ec" stroke-opacity="0.80" stroke-width="2"/>
<path d="M460.98,266.56Q412.65,290.63 383.92,333.33" stroke="#06c4ec" stroke-opacity="0.80" stroke-width="2"/>
<path d="M460.98,266.56Q432.25,309.26 383.92,333.33" stroke="#1a1ace" stroke-opacity="0.80" stroke-width="1"/>
<path d="M412.65,288.63Q387.54,326.35 383.92,386.47" stroke="#06c4ec" stroke-opacity="0.80" stroke-width="2"/>
<path d="M412.65,288.63Q409.02,348.75 383.92,386.47" stroke="#06c4ec" stroke-opacity="0.80" stroke-width="2"/>
<path d="M383.92,333.33Q387.54,393.45 412.65,431.17" stroke="#0b3dec" stroke-opacity="0.80" stroke-width="1.6"/>
<path d="M383.92,333.33Q409.02,371.05 412.65,431.17" stroke="#1a1ace" stroke-opacity="0.80" stroke-width="1"/>
<path d="M383.92,386.47Q412.65,429.17 460.98,453.24" stroke="#0b3dec" stroke-opacity="0.80" stroke-width="1.6"/>
<path d="M383.92,386.47Q432.25,410.54 460.98,453.24" stroke="#0b3dec" stroke-opacity="0.80" stroke-width="1.6"/>
<path d="M412.65,431.17Q453.23,445.29 513.57,445.68" stroke="#0692ec" stroke-opacity="0.80" stroke-width="2"/>
<path d="M412.65,431.17Q472.99,431.56 513.57,445.68" stroke="#0692ec" stroke-opacity="0.80" stroke-width="2"/>
<path d="M460.98,453.24Q518.41,441.81 553.73,410.88" stroke="#0b3dec" stroke-opacity="0.80" stroke-width="1.6"/>
<path d="M460.98,453.24Q496.30,422.31 553.73,410.88" stroke="#0b3dec" stroke-opacity="0.80" stroke-width="1.6"/>
<path d="M568.70,359.90Q550.40,413.27 513.57,445.68" stroke="#0b3dec" stroke-opacity="0.80" stroke-width="1.6"/>
<path d="M568.70,359.90Q531.88,392.31 513.57,445.68" stroke="#0b3dec" stroke-opacity="0.80" stroke-width="1.6"/>
<path d="M553.73,308.92Q561.93,359.90 553.73,410.88" stroke="#0b3dec" stroke-opacity="0.80" stroke-width="1.6"/>
<path d="M553.73,308.92Q545.53,359.90 553.73,410.88" stroke="#0b3dec" stroke-opacity="0.80" stroke-width="1.6"/>
<path d="M568.70,359.90Q528.54,300.21 460.98,266.56" stroke="#06c4ec" stroke-opacity="0.80" stroke-width="2"/>
<path d="M568.70,359.90Q501.14,326.25 460.98,266.56" stroke="#0b3dec" stroke-opacity="0.80" stroke-width="1.6"/>
<path d="M513.57,274.12Q433.29,290.10 383.92,333.33" stroke="#06b0ec" stroke-opacity="0.80" stroke-width="2"/>
<path d="M513.57,274.12Q464.20,317.35 383.92,333.33" stroke="#06b0ec" stroke-opacity="0.80" stroke-width="2"/>
<path d="M460.98,266.56Q409.50,311.86 383.92,386.47" stroke="#1a1ace" stroke-opacity="0.80" stroke-width="1"/>
<path d="M460.98,266.56Q435.40,341.17 383.92,386.47" stroke="#1a1ace" stroke-opacity="0.80" stroke-width="1"/>
<path d="M412.65,288.63Q404.45,359.90 412.65,431.17" stroke="#06c4ec" stroke-opacity="0.80" stroke-width="2"/>
<path d="M412.65,288.63Q420.85,359.90 412.65,431.17" stroke="#06c4ec" stroke-opacity="0.80" stroke-width="2"/>
<path d="M383.92,333.33Q409.50,407.94 460.98,453.24" stroke="#06b0ec" stroke-opacity="0.80" stroke-width="2"/>
<path d="M383.92,333.33Q435.40,378.63 460.98,453.24" stroke="#06b0ec" stroke-opacity="0.80" stroke-width="2"/>
<path d="M383.92,386.47Q433.29,429.70 513.57,445.68" stroke="#1a1ace" stroke-opacity="0.80" stroke-width="1.1"/>
<path d="M383.92,386.47Q464.20,402.45 513.57,445.68" stroke="#0b3dec" stroke-opacity="0.80" stroke-width="1.5"/>
<path d="M568.70,359.90Q528.54,419.59 460.98,453.24" stroke="#0b3dec" stroke-opacity="0.80" stroke-width="1.6"/>
<path d="M568.70,359.90Q501.14,393.55 460.98,453.24" stroke="#0b3dec" stroke-opacity="0.80" stroke-width="1.6"/>
<path d="M553.73,308.92Q548.66,392.95 513.57,445.68" stroke="#0b3dec" stroke-opacity="0.80" stroke-width="1.6"/>
<path d="M553.73,308.92Q518.64,361.64 513.57,445.68" stroke="#0b3dec" stroke-opacity="0.80" stroke-width="1.6"/>
<path d="M513.57,274.12Q548.66,326.85 553.73,410.88" stroke="#0b4cec" stroke-opacity="0.80" stroke-width="1.8"/>
<path d="M513.57,274.12Q518.64,358.16 553.73,410.88" stroke="#0b4cec" stroke-opacity="0.80" stroke-width="1.8"/>
<path d="M553.73,308.92Q452.40,311.01 383.92,333.33" stroke="#1a1ace" stroke-opacity="0.80" stroke-width="1"/>
<path d="M553.73,308.92Q485.25,331.24 383.92,333.33" stroke="#1a1ace" stroke-opacity="0.80" stroke-width="1"/>
<path d="M513.57,274.12Q432.26,314.62 383.92,386.47" stroke="#06b0ec" stroke-opacity="0.80" stroke-width="2"/>
<path d="M513.57,274.12Q465.24,345.97 383.92,386.47" stroke="#06b0ec" stroke-opacity="0.80" stroke-width="2"/>
<path d="M460.98,266.56Q418.74,330.02 412.65,431.17" stroke="#06c4ec" stroke-opacity="0.80" stroke-width="2"/>
<path d="M460.98,266.56Q454.88,367.71 412.65,431.17" stroke="#0b3dec" stroke-opacity="0.80" stroke-width="1.6"/>
<path d="M383.92,333.33Q432.26,405.18 513.57,445.68" stroke="#06b0ec" stroke-opacity="0.80" stroke-width="2"/>
<path d="M383.92,333.33Q465.24,373.83 513.57,445.68" stroke="#06b0ec" stroke-opacity="0.80" stroke-width="2"/>
<path d="M383.92,386.47Q452.40,408.79 553.73,410.88" stroke="#1a1ace" stroke-opacity="0.80" stroke-width="1.1"/>
<path d="M383.92,386.47Q485.25,388.56 553.73,410.88" stroke="#0b4cec" stroke-opacity="0.80" stroke-width="1.5"/>
<path d="M568.70,359.90Q509.28,411.93 412.65,431.17" stroke="#06c4ec" stroke-opacity="0.80" stroke-width="2"/>
<path d="M568.70,359.90Q472.07,379.13 412.65,431.17" stroke="#0b3dec" stroke-opacity="0.80" stroke-width="1.6"/>
<path d="M553.73,308.92Q522.94,398.72 460.98,453.24" stroke="#1a1ace" stroke-opacity="0.80" stroke-width="1"/>
<path d="M553.73,308.92Q491.77,363.44 460.98,453.24" stroke="#1a1ace" stroke-opacity="0.80" stroke-width="1"/>
<path d="M513.57,274.12Q521.77,359.90 513.57,445.68" stroke="#06b0ec" stroke-opacity="0.80" stroke-width="2.5"/>
<path d="M513.57,274.12Q505.37,359.90 513.57,445.68" stroke="#4cecba" stroke-opacity="0.80" stroke-width="2.5"/>
<path d="M460.98,266.56Q522.94,321.08 553.73,410.88" stroke="#0b4cec" stroke-opacity="0.80" stroke-width="1.6"/>
<path d="M460.98,266.56Q491.77,356.36 553.73,410.88" stroke="#0b4cec" stroke-opacity="0.80" stroke-width="1.6"/>
<path d="M568.70,359.90Q494.18,335.61 383.92,333.33" stroke="#06c4ec" stroke-opacity="0.80" stroke-width="2.2"/>
<path d="M568.70,359.90Q458.44,357.63 383.92,333.33" stroke="#06c4ec" stroke-opacity="0.80" stroke-width="2.2"/>
<path d="M553.73,308.92Q448.58,329.85 383.92,386.47" stroke="#1a1ace" stroke-opacity="0.80" stroke-width="1"/>
<path d="M553.73,308.92Q489.07,365.54 383.92,386.47" stroke="#1a1ace" stroke-opacity="0.80" stroke-width="1"/>
<path d="M513.57,274.12Q446.15,333.45 412.65,431.17" stroke="#06b0ec" stroke-opacity="0.80" stroke-width="2"/>
<path d="M513.57,274.12Q480.07,371.84 412.65,431.17" stroke="#06b0ec" stroke-opacity="0.80" stroke-width="2"/>
<path d="M460.98,266.56Q452.78,359.90 460.98,453.24" stroke="#00cff6" stroke-opacity="0.81" stroke-width="2.5"/>
<path d="M460.98,266.56Q469.18,359.90 460.98,453.24" stroke="#00cff6" stroke-opacity="0.81" stroke-width="2.5"/>
<path d="M412.65,288.63Q446.15,386.35 513.57,445.68" stroke="#1a1ace" stroke-opacity="0.80" stroke-width="1.1"/>
<path d="M412.65,288.63Q480.07,347.96 513.57,445.68" stroke="#0b3dec" stroke-opacity="0.80" stroke-width="1.5"/>
<path d="M383.92,333.33Q448.58,389.95 553.73,410.88" stroke="#06c4ec" stroke-opacity="0.80" stroke-width="2"/>
<path d="M383.92,333.33Q489.07,354.26 553.73,410.88" stroke="#06c4ec" stroke-opacity="0.80" stroke-width="2"/>
<path d="M568.70,359.90Q494.18,384.19 383.92,386.47" stroke="#06b0ec" stroke-opacity="0.80" stroke-width="2"/>
<path d="M568.70,359.90Q458.44,362.17 383.92,386.47" stroke="#0b3dec" stroke-opacity="0.80" stroke-width="1.6"/>
<path d="M553.73,308.92Q501.13,387.10 412.65,431.17" stroke="#1a1ace" stroke-opacity="0.80" stroke-width="1"/>
<path d="M553.73,308.92Q465.24,352.99 412.65,431.17" stroke="#1a1ace" stroke-opacity="0.80" stroke-width="1"/>
<path d="M412.65,288.63Q501.13,332.70 553.73,410.88" stroke="#06c4ec" stroke-opacity="0.80" stroke-width="2"/>
<path d="M412.65,288.63Q465.24,366.81 553.73,410.88" stroke="#1a1ace" stroke-opacity="0.80" stroke-width="1.1"/>
<path d="M513.57,274.12Q506.94,384.18 460.98,453.24" stroke="#06b0ec" stroke-opacity="0.80" stroke-width="2"/>
<path d="M513.57,274.12Q467.62,343.18 460.98,453.24" stroke="#06b0ec" stroke-opacity="0.80" stroke-width="2"/>
<path d="M460.98,266.56Q506.94,335.62 513.57,445.68" stroke="#74ec88" stroke-opacity="0.80" stroke-width="2.5"/>
<path d="M460.98,266.56Q467.62,376.62 513.57,445.68" stroke="#74ec88" stroke-opacity="0.80" stroke-width="2.5"/>
<path d="M513.57,445.68Q539.54,434.03 553.73,410.88" stroke="#38ec9c" stroke-opacity="0.80" stroke-width="2.5"/>
<path d="M513.57,445.68Q527.77,422.53 553.73,410.88" stroke="#06ceec" stroke-opacity="0.80" stroke-width="2"/>
<path d="M553.73,308.92Q496.83,290.37 412.65,288.63" stroke="#a1ec4c" stroke-opacity="0.80" stroke-width="2.8"/>
<path d="M553.73,308.92Q469.54,307.18 412.65,288.63" stroke="#a1ec4c" stroke-opacity="0.80" stroke-width="2.8"/>
<path d="M568.70,359.90Q509.28,307.87 412.65,288.63" stroke="#a6ec4c" stroke-opacity="0.80" stroke-width="3"/>
<path d="M568.70,359.90Q472.07,340.67 412.65,288.63" stroke="#a6ec4c" stroke-opacity="0.80" stroke-width="3"/>
<path d="M412.65,288.63Q418.74,389.78 460.98,453.24" stroke="#74ec74" stroke-opacity="0.80" stroke-width="2.5"/>
<path d="M412.65,288.63Q454.88,352.09 460.98,453.24" stroke="#74ec74" stroke-opacity="0.80" stroke-width="2.5"/>
<path d="M412.65,431.17Q496.83,429.43 553.73,410.88" stroke="#79090b" stroke-opacity="0.80" stroke-width="4.6"/>
<path d="M412.65,431.17Q469.54,412.62 553.73,410.88" stroke="#79090b" stroke-opacity="0.80" stroke-width="4.6"/>
</g>
<path d="M564.10,329.69L566.79,332.45L563.33,333.46Z" fill="#24ecc4" fill-opacity="0.80"/>
<path d="M558.33,339.13L555.74,336.34L559.00,335.38Z" fill="#06c4ec" fill-opacity="0.80"/>
<path d="M535.31,287.53L539.16,288.28L536.60,291.23Z" fill="#06cef6" fill-opacity="0.80"/>
<path d="M531.99,295.51L528.25,294.64L530.60,291.92Z" fill="#06b0ec" fill-opacity="0.80"/>
<path d="M488.45,266.37L492.03,265.37L491.60,268.34Z" fill="#1a1ace" fill-opacity="0.80"/>
<path d="M486.11,274.31L482.53,275.31L482.95,272.34Z" fill="#1a1ace" fill-opacity="0.80"/>
<path d="M432.14,275.22L434.61,272.45L435.86,275.18Z" fill="#1a1ace" fill-opacity="0.80"/>
<path d="M441.49,279.97L439.02,282.74L437.77,280.01Z" fill="#1a1ace" fill-opacity="0.80"/>
<path d="M394.45,309.36L394.74,305.50L397.85,307.50Z" fill="#1ae7ce" fill-opacity="0.80"/>
<path d="M402.12,312.60L401.79,316.44L398.76,314.49Z" fill="#06c4ec" fill-opacity="0.80"/>
<path d="M379.82,361.60L377.87,358.20L381.77,358.20Z" fill="#10d8ec" fill-opacity="0.80"/>
<path d="M388.02,358.20L389.82,361.60L386.22,361.60Z" fill="#06c4ec" fill-opacity="0.80"/>
<path d="M396.29,413.30L393.19,411.25L395.72,409.63Z" fill="#0b3dec" fill-opacity="0.80"/>
<path d="M400.28,404.33L403.55,406.28L400.69,408.11Z" fill="#069cec" fill-opacity="0.80"/>
<path d="M435.23,445.99L431.43,446.12L432.85,443.03Z" fill="#06a6ec" fill-opacity="0.80"/>
<path d="M438.40,438.42L442.15,438.38L440.82,441.29Z" fill="#0b60ec" fill-opacity="0.80"/>
<path d="M491.82,452.95L488.66,454.92L488.24,451.95Z" fill="#1024d8" fill-opacity="0.80"/>
<path d="M482.74,445.97L485.89,444.00L486.32,446.97Z" fill="#1024d8" fill-opacity="0.80"/>
<path d="M564.10,390.11L563.62,386.42L566.50,387.27Z" fill="#0b3dec" fill-opacity="0.80"/>
<path d="M558.33,380.67L558.81,384.36L555.93,383.51Z" fill="#0b3dec" fill-opacity="0.80"/>
<path d="M544.85,310.34L548.12,312.28L545.26,314.12Z" fill="#06c4ec" fill-opacity="0.80"/>
<path d="M537.43,323.68L534.16,321.74L537.02,319.90Z" fill="#06c4ec" fill-opacity="0.80"/>
<path d="M511.34,282.16L515.14,282.02L513.72,285.12Z" fill="#06b0ec" fill-opacity="0.80"/>
<path d="M503.37,293.32L499.66,293.27L500.90,290.54Z" fill="#0b3dec" fill-opacity="0.80"/>
<path d="M456.49,278.18L459.61,276.02L460.09,279.38Z" fill="#06b0ec" fill-opacity="0.80"/>
<path d="M469.73,284.57L466.61,286.73L466.13,283.37Z" fill="#06b0ec" fill-opacity="0.80"/>
<path d="M416.27,296.40L417.72,292.89L419.95,295.46Z" fill="#06c4ec" fill-opacity="0.80"/>
<path d="M428.63,303.49L427.05,306.85L425.08,304.58Z" fill="#1a1ace" fill-opacity="0.80"/>
<path d="M392.43,333.58L391.76,329.84L395.02,330.80Z" fill="#06c4ec" fill-opacity="0.80"/>
<path d="M404.13,341.52L404.80,345.26L401.54,344.30Z" fill="#06c4ec" fill-opacity="0.80"/>
<path d="M393.39,389.48L390.99,386.64L393.87,385.80Z" fill="#0b3dec" fill-opacity="0.80"/>
<path d="M403.17,375.02L405.57,377.86L402.69,378.70Z" fill="#1a1ace" fill-opacity="0.80"/>
<path d="M418.83,425.63L415.28,424.53L417.25,422.27Z" fill="#0b3dec" fill-opacity="0.80"/>
<path d="M426.07,414.08L429.62,415.18L427.65,417.44Z" fill="#0b3dec" fill-opacity="0.80"/>
<path d="M459.85,442.10L456.25,443.30L456.73,439.93Z" fill="#0692ec" fill-opacity="0.80"/>
<path d="M466.37,434.75L469.97,433.55L469.49,436.92Z" fill="#0692ec" fill-opacity="0.80"/>
<path d="M514.43,436.23L511.96,439.01L510.71,436.28Z" fill="#0b3dec" fill-opacity="0.80"/>
<path d="M500.28,427.89L502.75,425.11L504.00,427.84Z" fill="#0b3dec" fill-opacity="0.80"/>
<path d="M544.85,409.46L545.42,405.79L547.95,407.41Z" fill="#0b3dec" fill-opacity="0.80"/>
<path d="M537.43,396.12L536.85,399.79L534.33,398.17Z" fill="#0b3dec" fill-opacity="0.80"/>
<path d="M557.83,361.60L556.33,358.20L559.33,358.20Z" fill="#0b3dec" fill-opacity="0.80"/>
<path d="M549.63,358.20L551.13,361.60L548.13,361.60Z" fill="#0b3dec" fill-opacity="0.80"/>
<path d="M520.41,305.61L524.09,306.55L521.86,309.12Z" fill="#06c4ec" fill-opacity="0.80"/>
<path d="M509.27,320.85L505.72,319.76L507.69,317.49Z" fill="#0b3dec" fill-opacity="0.80"/>
<path d="M439.47,297.62L441.86,294.66L443.27,297.75Z" fill="#06b0ec" fill-opacity="0.80"/>
<path d="M458.02,309.83L455.63,312.79L454.22,309.70Z" fill="#06b0ec" fill-opacity="0.80"/>
<path d="M415.06,320.62L415.63,316.95L418.16,318.57Z" fill="#1a1ace" fill-opacity="0.80"/>
<path d="M429.84,332.41L429.27,336.08L426.74,334.46Z" fill="#1a1ace" fill-opacity="0.80"/>
<path d="M408.55,361.60L406.85,358.20L410.25,358.20Z" fill="#06c4ec" fill-opacity="0.80"/>
<path d="M416.75,358.20L418.45,361.60L415.05,361.60Z" fill="#06c4ec" fill-opacity="0.80"/>
<path d="M416.89,402.04L413.63,400.10L416.49,398.26Z" fill="#06b0ec" fill-opacity="0.80"/>
<path d="M428.01,384.53L431.27,386.47L428.41,388.31Z" fill="#06b0ec" fill-opacity="0.80"/>
<path d="M442.56,423.59L438.85,423.55L440.09,420.82Z" fill="#1a1ace" fill-opacity="0.80"/>
<path d="M454.93,408.56L458.64,408.60L457.40,411.33Z" fill="#0b3dec" fill-opacity="0.80"/>
<path d="M520.41,414.19L521.99,410.83L523.96,413.10Z" fill="#0b3dec" fill-opacity="0.80"/>
<path d="M509.27,398.95L507.69,402.31L505.72,400.04Z" fill="#0b3dec" fill-opacity="0.80"/>
<path d="M540.68,386.76L540.19,383.07L543.07,383.92Z" fill="#0b3dec" fill-opacity="0.80"/>
<path d="M526.62,367.84L527.11,371.52L524.23,370.68Z" fill="#0b3dec" fill-opacity="0.80"/>
<path d="M541.63,336.31L539.14,333.49L542.21,332.59Z" fill="#0b4cec" fill-opacity="0.80"/>
<path d="M525.67,348.70L528.16,351.51L525.09,352.41Z" fill="#0b4cec" fill-opacity="0.80"/>
<path d="M458.93,316.31L462.08,314.34L462.51,317.31Z" fill="#1a1ace" fill-opacity="0.80"/>
<path d="M478.72,325.94L475.57,327.91L475.14,324.94Z" fill="#1a1ace" fill-opacity="0.80"/>
<path d="M439.22,323.57L440.67,320.06L442.90,322.63Z" fill="#06b0ec" fill-opacity="0.80"/>
<path d="M458.28,337.02L456.82,340.53L454.59,337.96Z" fill="#06b0ec" fill-opacity="0.80"/>
<path d="M427.30,341.07L426.63,337.33L429.89,338.29Z" fill="#06c4ec" fill-opacity="0.80"/>
<path d="M446.33,356.66L446.81,360.34L443.93,359.50Z" fill="#0b3dec" fill-opacity="0.80"/>
<path d="M441.79,398.46L438.10,397.51L440.33,394.94Z" fill="#06b0ec" fill-opacity="0.80"/>
<path d="M455.71,380.55L459.39,381.50L457.16,384.07Z" fill="#06b0ec" fill-opacity="0.80"/>
<path d="M462.30,403.97L458.72,404.98L459.14,402.01Z" fill="#1a1ace" fill-opacity="0.80"/>
<path d="M475.35,393.38L478.93,392.37L478.51,395.34Z" fill="#0b4cec" fill-opacity="0.80"/>
<path d="M498.43,404.44L500.82,401.48L502.23,404.57Z" fill="#06c4ec" fill-opacity="0.80"/>
<path d="M482.92,386.63L480.45,389.40L479.20,386.67Z" fill="#0b3dec" fill-opacity="0.80"/>
<path d="M514.23,391.33L514.80,387.66L517.33,389.28Z" fill="#1a1ace" fill-opacity="0.80"/>
<path d="M500.48,370.83L499.91,374.50L497.38,372.88Z" fill="#1a1ace" fill-opacity="0.80"/>
<path d="M517.67,361.60L515.72,358.20L519.62,358.20Z" fill="#06b0ec" fill-opacity="0.80"/>
<path d="M509.47,358.20L511.42,361.60L507.52,361.60Z" fill="#4cecba" fill-opacity="0.80"/>
<path d="M516.07,331.33L512.97,329.28L515.49,327.66Z" fill="#0b4cec" fill-opacity="0.80"/>
<path d="M498.64,346.11L501.74,348.16L499.22,349.78Z" fill="#0b4cec" fill-opacity="0.80"/>
<path d="M483.56,340.87L487.18,339.57L486.67,343.14Z" fill="#06c4ec" fill-opacity="0.80"/>
<path d="M469.06,352.36L465.44,353.66L465.95,350.10Z" fill="#06c4ec" fill-opacity="0.80"/>
<path d="M457.16,339.48L459.63,336.70L460.87,339.43Z" fill="#1a1ace" fill-opacity="0.80"/>
<path d="M480.49,355.91L478.02,358.69L476.78,355.96Z" fill="#1a1ace" fill-opacity="0.80"/>
<path d="M453.71,344.48L454.12,340.70L456.98,342.54Z" fill="#06b0ec" fill-opacity="0.80"/>
<path d="M472.51,360.81L472.10,364.59L469.24,362.75Z" fill="#06b0ec" fill-opacity="0.80"/>
<path d="M456.88,361.60L454.93,358.20L458.83,358.20Z" fill="#00cff6" fill-opacity="0.81"/>
<path d="M465.08,358.20L467.03,361.60L463.13,361.60Z" fill="#00cff6" fill-opacity="0.81"/>
<path d="M455.55,378.18L452.45,376.13L454.97,374.51Z" fill="#1a1ace" fill-opacity="0.80"/>
<path d="M470.67,356.13L473.77,358.18L471.25,359.80Z" fill="#0b3dec" fill-opacity="0.80"/>
<path d="M460.25,381.73L456.45,381.87L457.86,378.77Z" fill="#06c4ec" fill-opacity="0.80"/>
<path d="M477.40,362.48L481.20,362.34L479.79,365.44Z" fill="#06c4ec" fill-opacity="0.80"/>
<path d="M483.56,378.93L486.69,376.76L487.17,380.13Z" fill="#06b0ec" fill-opacity="0.80"/>
<path d="M469.06,367.44L465.91,369.40L465.48,366.43Z" fill="#0b3dec" fill-opacity="0.80"/>
<path d="M490.88,379.69L492.46,376.33L494.43,378.59Z" fill="#1a1ace" fill-opacity="0.80"/>
<path d="M475.50,360.40L473.91,363.76L471.95,361.50Z" fill="#1a1ace" fill-opacity="0.80"/>
<path d="M493.44,342.34L489.76,341.40L491.99,338.83Z" fill="#06c4ec" fill-opacity="0.80"/>
<path d="M472.93,357.17L476.48,358.26L474.52,360.53Z" fill="#1a1ace" fill-opacity="0.80"/>
<path d="M496.63,375.56L495.96,371.82L499.22,372.78Z" fill="#06b0ec" fill-opacity="0.80"/>
<path d="M477.93,351.80L478.60,355.54L475.34,354.58Z" fill="#06b0ec" fill-opacity="0.80"/>
<path d="M497.59,347.50L494.76,344.79L498.50,343.69Z" fill="#74ec88" fill-opacity="0.80"/>
<path d="M476.97,364.74L479.80,367.45L476.06,368.55Z" fill="#74ec88" fill-opacity="0.80"/>
<path d="M537.88,430.04L536.59,433.74L534.03,430.79Z" fill="#38ec9c" fill-opacity="0.80"/>
<path d="M529.43,426.52L530.88,423.01L533.11,425.58Z" fill="#06ceec" fill-opacity="0.80"/>
<path d="M428.26,381.99L425.43,379.28L429.17,378.18Z" fill="#74ec74" fill-opacity="0.80"/>
<path d="M445.37,359.88L448.20,362.59L444.46,363.69Z" fill="#74ec74" fill-opacity="0.80"/>
<circle cx="229.20" cy="120.50" r="2.3" fill="#000"/>
<circle cx="66.00" cy="26.28" r="2.3" fill="#000"/>
<circle cx="66.00" cy="214.72" r="2.3" fill="#000"/>
<circle cx="576.60" cy="116.30" r="2.3" fill="#000"/>
<circle cx="524.52" cy="26.10" r="2.3" fill="#000"/>
<circle cx="420.38" cy="26.10" r="2.3" fill="#000"/>
<circle cx="368.30" cy="116.30" r="2.3" fill="#000"/>
<circle cx="420.37" cy="206.50" r="2.3" fill="#000"/>
<circle cx="524.52" cy="206.50" r="2.3" fill="#000"/>
<circle cx="239.10" cy="361.20" r="2.3" fill="#000"/>
<circle cx="211.48" cy="294.52" r="2.3" fill="#000"/>
<circle cx="144.80" cy="266.90" r="2.3" fill="#000"/>
<circle cx="78.12" cy="294.52" r="2.3" fill="#000"/>
<circle cx="50.50" cy="361.20" r="2.3" fill="#000"/>
<circle cx="78.12" cy="427.88" r="2.3" fill="#000"/>
<circle cx="144.80" cy="455.50" r="2.3" fill="#000"/>
<circle cx="211.48" cy="427.88" r="2.3" fill="#000"/>
<circle cx="568.70" cy="359.90" r="2.3" fill="#000"/>
<circle cx="553.73" cy="308.92" r="2.3" fill="#000"/>
<circle cx="513.57" cy="274.12" r="2.3" fill="#000"/>
<circle cx="460.98" cy="266.56" r="2.3" fill="#000"/>
<circle cx="412.65" cy="288.63" r="2.3" fill="#000"/>
<circle cx="383.92" cy="333.33" r="2.3" fill="#000"/>
<circle cx="383.92" cy="386.47" r="2.3" fill="#000"/>
<circle cx="412.65" cy="431.17" r="2.3" fill="#000"/>
<circle cx="460.98" cy="453.24" r="2.3" fill="#000"/>
<circle cx="513.57" cy="445.68" r="2.3" fill="#000"/>
<circle cx="553.73" cy="410.88" r="2.3" fill="#000"/>
<text class="L" transform="translate(11.6,22.9) scale(0.9,1)">A</text>
<text class="L" transform="translate(342.7,22.7) scale(0.9,1)">B</text>
<text class="L" transform="translate(11.8,266.6) scale(0.9,1)">C</text>
<text class="L" transform="translate(341.9,263.8) scale(0.9,1)">D</text>
<text class="n" transform="translate(231.40,120.50) rotate(0.0)" text-anchor="start" dy="3.6">1</text>
<text class="n" transform="translate(64.90,24.37) rotate(60.0)" text-anchor="end" dy="3.6">2</text>
<text class="n" transform="translate(64.90,216.63) rotate(-60.0)" text-anchor="end" dy="3.6">3</text>
<text class="n" transform="translate(578.80,116.30) rotate(0.0)" text-anchor="start" dy="3.6">1</text>
<text class="n" transform="translate(525.62,24.20) rotate(-60.0)" text-anchor="start" dy="3.6">2</text>
<text class="n" transform="translate(419.27,24.20) rotate(60.0)" text-anchor="end" dy="3.6">3</text>
<text class="n" transform="translate(366.10,116.30) rotate(0.0)" text-anchor="end" dy="3.6">4</text>
<text class="n" transform="translate(419.27,208.40) rotate(-60.0)" text-anchor="end" dy="3.6">5</text>
<text class="n" transform="translate(525.62,208.40) rotate(-300.0)" text-anchor="start" dy="3.6">6</text>
<text class="n" transform="translate(241.30,361.20) rotate(0.0)" text-anchor="start" dy="3.6">1</text>
<text class="n" transform="translate(213.04,292.96) rotate(-45.0)" text-anchor="start" dy="3.6">2</text>
<text class="n" transform="translate(144.80,264.70) rotate(-90.0)" text-anchor="start" dy="3.6">3</text>
<text class="n" transform="translate(76.56,292.96) rotate(45.0)" text-anchor="end" dy="3.6">4</text>
<text class="n" transform="translate(48.30,361.20) rotate(0.0)" text-anchor="end" dy="3.6">5</text>
<text class="n" transform="translate(76.56,429.44) rotate(-45.0)" text-anchor="end" dy="3.6">6</text>
<text class="n" transform="translate(144.80,457.70) rotate(-270.0)" text-anchor="start" dy="3.6">7</text>
<text class="n" transform="translate(213.04,429.44) rotate(-315.0)" text-anchor="start" dy="3.6">8</text>
<text class="n" transform="translate(570.90,359.90) rotate(0.0)" text-anchor="start" dy="3.6">1</text>
<text class="n" transform="translate(555.58,307.73) rotate(-32.7)" text-anchor="start" dy="3.6">2</text>
<text class="n" transform="translate(514.49,272.12) rotate(-65.5)" text-anchor="start" dy="3.6">3</text>
<text class="n" transform="translate(460.67,264.38) rotate(81.8)" text-anchor="end" dy="3.6">4</text>
<text class="n" transform="translate(411.21,286.97) rotate(49.1)" text-anchor="end" dy="3.6">5</text>
<text class="n" transform="translate(381.81,332.71) rotate(16.4)" text-anchor="end" dy="3.6">6</text>
<text class="n" transform="translate(381.81,387.09) rotate(-16.4)" text-anchor="end" dy="3.6">7</text>
<text class="n" transform="translate(411.21,432.83) rotate(-49.1)" text-anchor="end" dy="3.6">8</text>
<text class="n" transform="translate(460.67,455.42) rotate(-81.8)" text-anchor="end" dy="3.6">9</text>
<text class="n" transform="translate(514.49,447.68) rotate(-294.5)" text-anchor="start" dy="3.6">10</text>
<text class="n" transform="translate(555.58,412.07) rotate(-327.3)" text-anchor="start" dy="3.6">11</text>
<rect x="293.0" y="8.3" width="7.20" height="225.10" fill="url(#gA)"/>
<line x1="299.90" y1="8.3" x2="299.90" y2="233.4" stroke="#555" stroke-opacity="0.6" stroke-width="0.7"/>
<line x1="293.30" y1="8.3" x2="293.30" y2="233.4" stroke="#555" stroke-opacity="0.3" stroke-width="0.6"/>
<text class="t" x="303.0" y="10.7">0.07</text>
<text class="t" x="303.0" y="48.5">0.06</text>
<text class="t" x="303.0" y="86.2">0.05</text>
<text class="t" x="303.0" y="124.0">0.04</text>
<text class="t" x="303.0" y="161.7">0.03</text>
<text class="t" x="303.0" y="199.4">0.02</text>
<text class="t" x="303.0" y="237.2">0.01</text>
<rect x="620.4" y="3.8" width="7.00" height="225.20" fill="url(#gB)"/>
<line x1="627.10" y1="3.8" x2="627.10" y2="229.0" stroke="#555" stroke-opacity="0.6" stroke-width="0.7"/>
<line x1="620.70" y1="3.8" x2="620.70" y2="229.0" stroke="#555" stroke-opacity="0.3" stroke-width="0.6"/>
<text class="t" x="630.2" y="6.2">0.07</text>
<text class="t" x="630.2" y="44.0">0.06</text>
<text class="t" x="630.2" y="81.7">0.05</text>
<text class="t" x="630.2" y="119.5">0.04</text>
<text class="t" x="630.2" y="157.3">0.03</text>
<text class="t" x="630.2" y="195.0">0.02</text>
<text class="t" x="630.2" y="232.8">0.01</text>
<rect x="292.9" y="248.5" width="7.20" height="225.50" fill="url(#gC)"/>
<line x1="299.80" y1="248.5" x2="299.80" y2="474.0" stroke="#555" stroke-opacity="0.6" stroke-width="0.7"/>
<line x1="293.20" y1="248.5" x2="293.20" y2="474.0" stroke="#555" stroke-opacity="0.3" stroke-width="0.6"/>
<text class="t" x="302.9" y="250.9">0.07</text>
<text class="t" x="302.9" y="288.7">0.06</text>
<text class="t" x="302.9" y="326.5">0.05</text>
<text class="t" x="302.9" y="364.4">0.04</text>
<text class="t" x="302.9" y="402.2">0.03</text>
<text class="t" x="302.9" y="440.0">0.02</text>
<text class="t" x="302.9" y="477.8">0.01</text>
<rect x="622.4" y="247.2" width="7.40" height="225.40" fill="url(#gD)"/>
<line x1="629.50" y1="247.2" x2="629.50" y2="472.6" stroke="#555" stroke-opacity="0.6" stroke-width="0.7"/>
<line x1="622.70" y1="247.2" x2="622.70" y2="472.6" stroke="#555" stroke-opacity="0.3" stroke-width="0.6"/>
<text class="t" x="632.6" y="249.6">0.07</text>
<text class="t" x="632.6" y="287.4">0.06</text>
<text class="t" x="632.6" y="325.2">0.05</text>
<text class="t" x="632.6" y="363.0">0.04</text>
<text class="t" x="632.6" y="400.8">0.03</text>
<text class="t" x="632.6" y="438.6">0.02</text>
<text class="t" x="632.6" y="476.4">0.01</text>
<text class="F" transform="translate(662.6,196.5) rotate(-90)">Frequency of interactions</text>
<text class="F" transform="translate(664.9,434.8) rotate(-90)">Frequency of interactions</text>
</svg></body></html>
